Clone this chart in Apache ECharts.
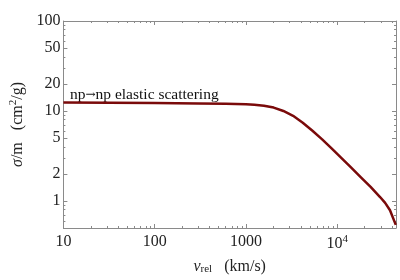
<!DOCTYPE html>
<html>
<head>
<meta charset="utf-8">
<script src="https://cdn.jsdelivr.net/npm/echarts@6/dist/echarts.min.js"></script>
<style>html,body{margin:0;padding:0;background:#fff}#c{width:400px;height:280px}</style>
</head>
<body>
<div id="c"></div>
<script>
// velocity (km/s) and sigma/m (cm^2/g)
const velocities = [10, 100, 300, 600, 1000, 1234, 1576, 2012, 2569, 3281, 4190, 5349, 6831, 8722, 11137, 14220, 18156, 23189, 29604, 33450, 37810, 43770];
const sigmaValues = [12.4, 12.25, 12.1, 12.0, 11.85, 11.71, 11.45, 10.91, 10.0, 8.83, 7.41, 6.03, 4.84, 3.81, 2.99, 2.34, 1.83, 1.43, 1.097, 0.951, 0.788, 0.542];
const seriesLabel = 'np→np elastic scattering';

const xMajorTicks = [10, 100, 1000, 10000];
const xMinorTicks = [20,30,40,50,60,70,80,90,200,300,400,500,600,700,800,900,2000,3000,4000,5000,6000,7000,8000,9000,20000,30000,40000];
const yMajorTicks = [1, 2, 5, 10, 20, 50, 100];
const yMinorTicks = [0.6,0.7,0.8,0.9,3,4,6,7,8,9,30,40,60,70,80,90];
const xTickLabels = ['10', '100', '1000', '10{sup|4}'];

const xMin = 10, xMax = 44000, yMin = 0.5, yMax = 100;
const FONT = 'Liberation Serif';
const FS = 16;
const frameColor = '#8a8a8a';

function xAxisCfg(pos, ticks, len, showLabel, showLine) {
  return {
    type: 'log', logBase: 10, position: pos, min: xMin, max: xMax,
    axisLine: {show: showLine, lineStyle: {color: frameColor, width: 1}},
    axisTick: {show: true, inside: true, length: len, customValues: ticks, lineStyle: {color: frameColor}},
    axisLabel: showLabel ? {
      show: true, customValues: xMajorTicks, margin: 6,
      fontFamily: FONT, fontSize: FS, color: '#222',
      formatter: function (v) { const i = xMajorTicks.indexOf(v); return i >= 0 ? xTickLabels[i] : ''; },
      rich: {sup: {fontFamily: FONT, fontSize: 11, color: '#222', verticalAlign: 'top', padding: [0,0,8,0]}}
    } : {show: false},
    splitLine: {show: false}, minorTick: {show: false}, minorSplitLine: {show: false}
  };
}
function yAxisCfg(pos, ticks, len, showLabel, showLine) {
  return {
    type: 'log', logBase: 10, position: pos, min: yMin, max: yMax,
    axisLine: {show: showLine, lineStyle: {color: frameColor, width: 1}},
    axisTick: {show: true, inside: true, length: len, customValues: ticks, lineStyle: {color: frameColor}},
    axisLabel: showLabel ? {
      show: true, customValues: yMajorTicks, margin: 3,
      fontFamily: FONT, fontSize: FS, color: '#222',
      formatter: function (v) { return String(v); }
    } : {show: false},
    splitLine: {show: false}, minorTick: {show: false}, minorSplitLine: {show: false}
  };
}

const xa0 = xAxisCfg('bottom', xMajorTicks, 4, true, true);
xa0.name = '{i|v}{sub|rel}   (km/s)';
xa0.nameLocation = 'middle';
xa0.nameGap = 30;
xa0.nameTextStyle = {fontFamily: FONT, fontSize: FS, color: '#222',
  rich: {i: {fontFamily: FONT, fontStyle: 'italic', fontSize: FS, color: '#222'},
         sub: {fontFamily: FONT, fontSize: 11, color: '#222', verticalAlign: 'bottom', padding: [6,0,0,0]}}};

const ya0 = yAxisCfg('left', yMajorTicks, 4, true, true);
ya0.name = '{i|σ}/m   (cm{sup|2}/g)';
ya0.nameLocation = 'middle';
ya0.nameRotate = 90;
ya0.nameGap = 34;
ya0.nameTextStyle = {fontFamily: FONT, fontSize: FS, color: '#222',
  rich: {i: {fontFamily: FONT, fontStyle: 'italic', fontSize: FS, color: '#222'},
         sup: {fontFamily: FONT, fontSize: 11, color: '#222', verticalAlign: 'top', padding: [0,0,8,0]}}};

const labelParts = seriesLabel.split('→');

const chart = echarts.init(document.getElementById('c'), null, {renderer: 'canvas'});
chart.setOption({
  animation: false,
  backgroundColor: '#fff',
  grid: {left: 53, right: 4, top: 21, bottom: 47, containLabel: false},
  xAxis: [
    xa0,
    xAxisCfg('bottom', xMinorTicks, 2, false, false),
    xAxisCfg('top', xMajorTicks, 4, false, true),
    xAxisCfg('top', xMinorTicks, 2, false, false)
  ],
  yAxis: [
    ya0,
    yAxisCfg('left', yMinorTicks, 2, false, false),
    yAxisCfg('right', yMajorTicks, 4, false, true),
    yAxisCfg('right', yMinorTicks, 2, false, false)
  ],
  graphic: [{
    type: 'text', left: 70, top: 87,
    style: {
      text: '{a|' + labelParts[0] + '}{b|→}{a|' + labelParts[1] + '}',
      rich: {
        a: {fontFamily: FONT, fontSize: 15.5, fill: '#111', color: '#111'},
        b: {fontFamily: 'DejaVu Serif', fontSize: 12, fill: '#111', color: '#111'}
      }
    }
  }],
  series: [{
    type: 'line', name: seriesLabel, xAxisIndex: 0, yAxisIndex: 0,
    data: velocities.map((v, i) => [v, sigmaValues[i]]),
    showSymbol: false, smooth: false, clip: true,
    lineStyle: {color: '#7a0a0a', width: 2.5, join: 'round'}
  }]
});
</script>
</body>
</html>
